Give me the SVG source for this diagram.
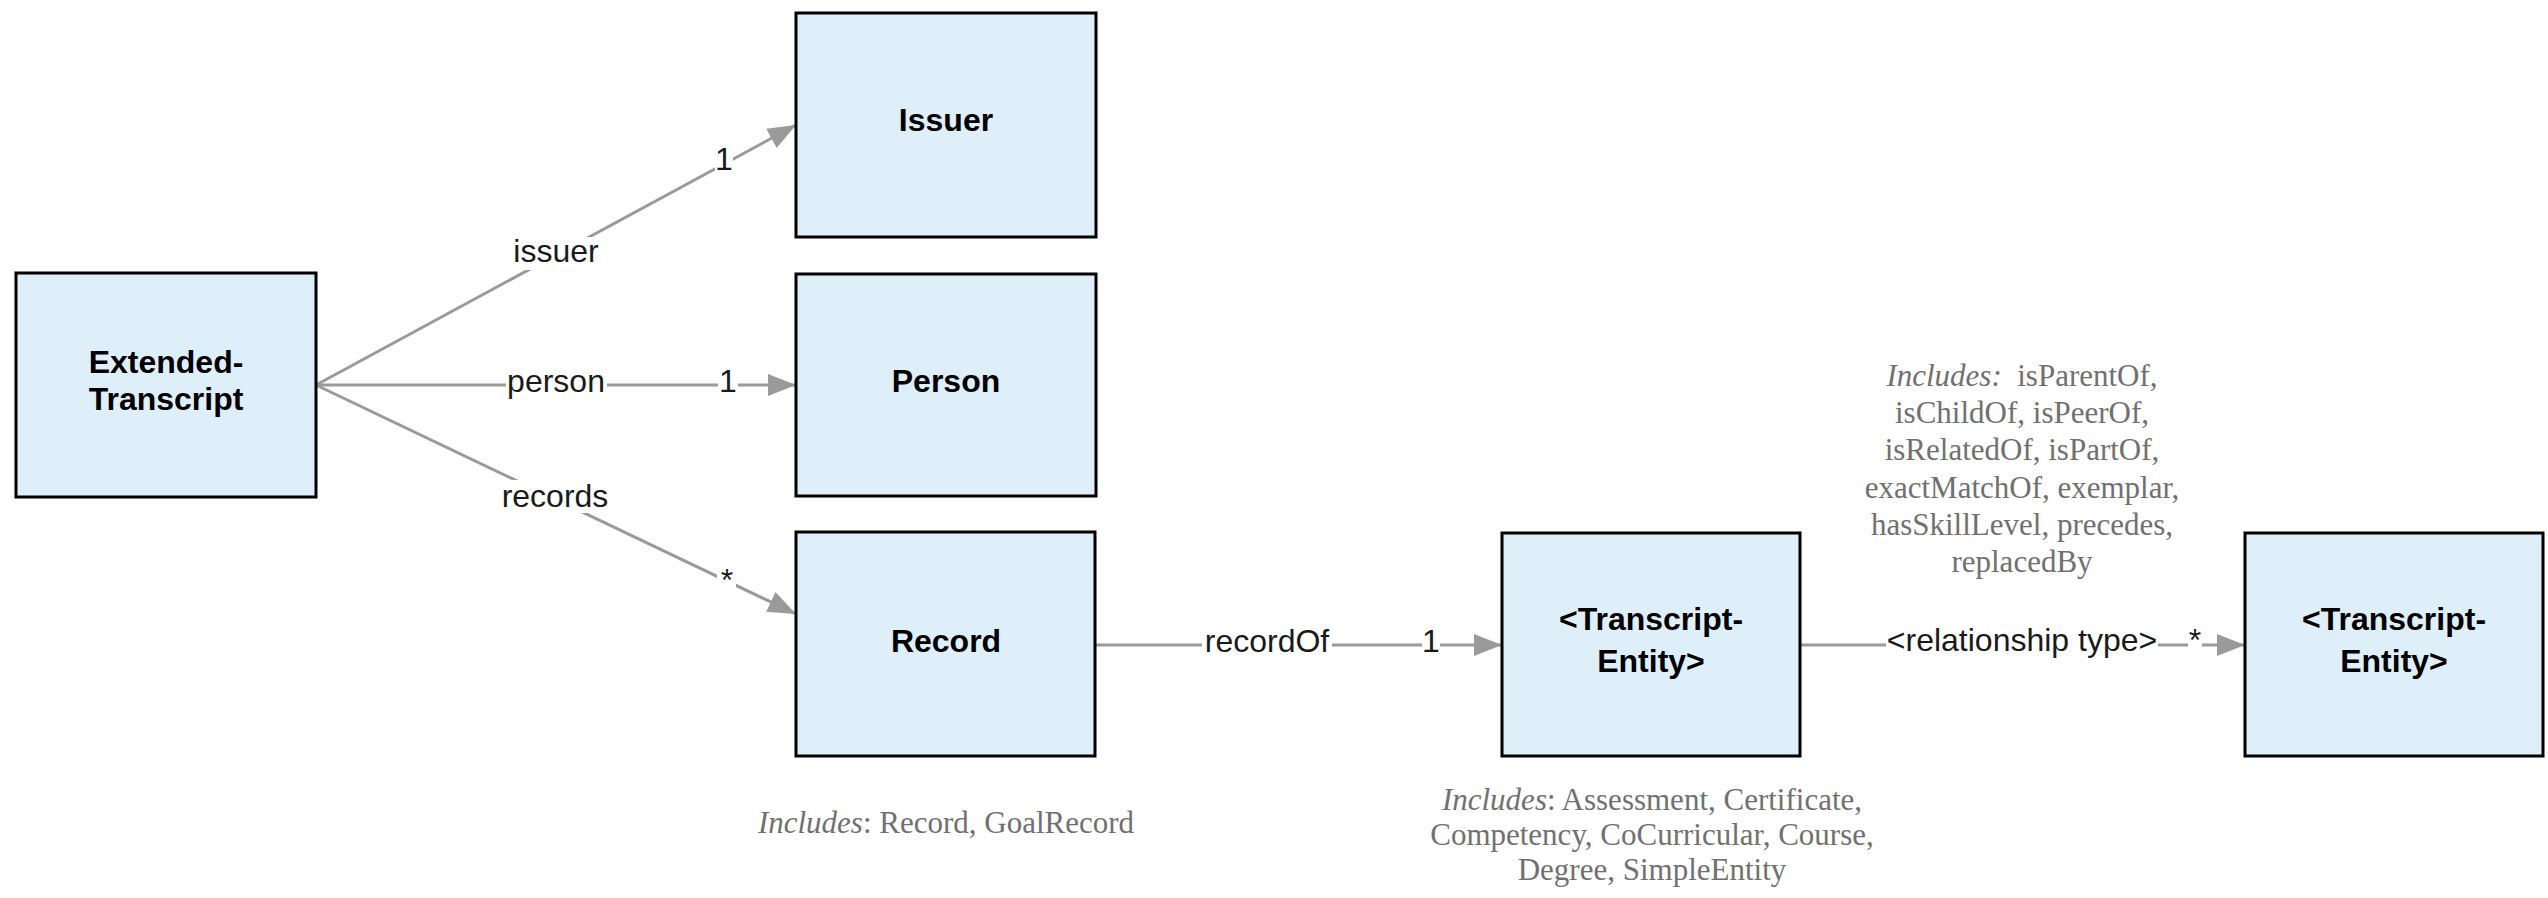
<svg xmlns="http://www.w3.org/2000/svg" width="2548" height="898" viewBox="0 0 2548 898">
<style>
.node rect{fill:#dfeffa;stroke:#000;stroke-width:3}
.node text{font-family:"Liberation Sans",Arial,sans-serif;font-weight:bold;font-size:32px;fill:#000;text-anchor:middle}
.conn line{stroke:#9a9a9a;stroke-width:3;fill:none}
.lbl{font-family:"Liberation Sans",Arial,sans-serif;font-size:32px;fill:#1a1a1a;text-anchor:middle}
.bg{fill:#fff}
.note{font-family:"Liberation Serif","Times New Roman",serif;font-size:31px;fill:#707070;text-anchor:middle}
.note .it{font-style:italic}
</style>
<defs>
<marker id="arr" markerUnits="userSpaceOnUse" markerWidth="30" markerHeight="24" refX="28" refY="11" orient="auto">
<path d="M0,0 L28,11 L0,22 z" fill="#9a9a9a"/>
</marker>
</defs>
<rect width="2548" height="898" fill="#fff"/>

<g id="connectors" class="conn">
<line x1="316" y1="385" x2="796" y2="125" marker-end="url(#arr)"/>
<line x1="316" y1="385" x2="796" y2="385" marker-end="url(#arr)"/>
<line x1="316" y1="385" x2="796" y2="614" marker-end="url(#arr)"/>
<line x1="1096" y1="645" x2="1502" y2="645" marker-end="url(#arr)"/>
<line x1="1800" y1="645" x2="2245" y2="645" marker-end="url(#arr)"/>
<rect class="bg" x="511" y="237" width="90" height="33"/>
<text class="lbl" x="556" y="262">issuer</text>
<rect class="bg" x="715" y="145" width="18" height="28"/>
<text class="lbl" x="724" y="170">1</text>
<rect class="bg" x="506" y="368" width="101" height="34"/>
<text class="lbl" x="556" y="392">person</text>
<rect class="bg" x="718" y="368" width="20" height="28"/>
<text class="lbl" x="728" y="392">1</text>
<rect class="bg" x="499" y="480" width="113" height="33"/>
<text class="lbl" x="555" y="507">records</text>
<rect class="bg" x="717" y="565" width="19" height="24"/>
<text class="lbl" x="727" y="591">*</text>
<rect class="bg" x="1202" y="628" width="130" height="32"/>
<text class="lbl" x="1267" y="652">recordOf</text>
<rect class="bg" x="1422" y="628" width="18" height="30"/>
<text class="lbl" x="1431" y="652">1</text>
<rect class="bg" x="1886" y="626" width="272" height="34"/>
<text class="lbl" x="2022" y="651">&lt;relationship type&gt;</text>
<rect class="bg" x="2188" y="626" width="14" height="24"/>
<text class="lbl" x="2195" y="651">*</text>
</g>

<g id="extended-transcript" class="node">
<rect x="16" y="273" width="300" height="224"/>
<text x="166" y="373">Extended-</text>
<text x="166" y="410">Transcript</text>
</g>
<g id="issuer" class="node">
<rect x="796" y="13" width="300" height="224"/>
<text x="946" y="131">Issuer</text>
</g>
<g id="person" class="node">
<rect x="796" y="274" width="300" height="222"/>
<text x="946" y="392">Person</text>
</g>
<g id="record" class="node">
<rect x="796" y="532" width="299" height="224"/>
<text x="946" y="652">Record</text>
</g>
<g id="transcript-entity-1" class="node">
<rect x="1502" y="533" width="298" height="223"/>
<text x="1651" y="630">&lt;Transcript-</text>
<text x="1651" y="672">Entity&gt;</text>
</g>
<g id="transcript-entity-2" class="node">
<rect x="2245" y="533" width="298" height="223"/>
<text x="2394" y="630">&lt;Transcript-</text>
<text x="2394" y="672">Entity&gt;</text>
</g>

<g id="notes">
<text class="note" x="946" y="833"><tspan class="it">Includes</tspan>: Record, GoalRecord</text>
<text class="note" x="1652" y="810"><tspan class="it">Includes</tspan>: Assessment, Certificate,</text>
<text class="note" x="1652" y="845">Competency, CoCurricular, Course,</text>
<text class="note" x="1652" y="880">Degree, SimpleEntity</text>
<text class="note" x="2022" y="386" xml:space="preserve"><tspan class="it">Includes:</tspan>  isParentOf,</text>
<text class="note" x="2022" y="423">isChildOf, isPeerOf,</text>
<text class="note" x="2022" y="460">isRelatedOf, isPartOf,</text>
<text class="note" x="2022" y="498">exactMatchOf, exemplar,</text>
<text class="note" x="2022" y="535">hasSkillLevel, precedes,</text>
<text class="note" x="2022" y="572">replacedBy</text>
</g>
</svg>
